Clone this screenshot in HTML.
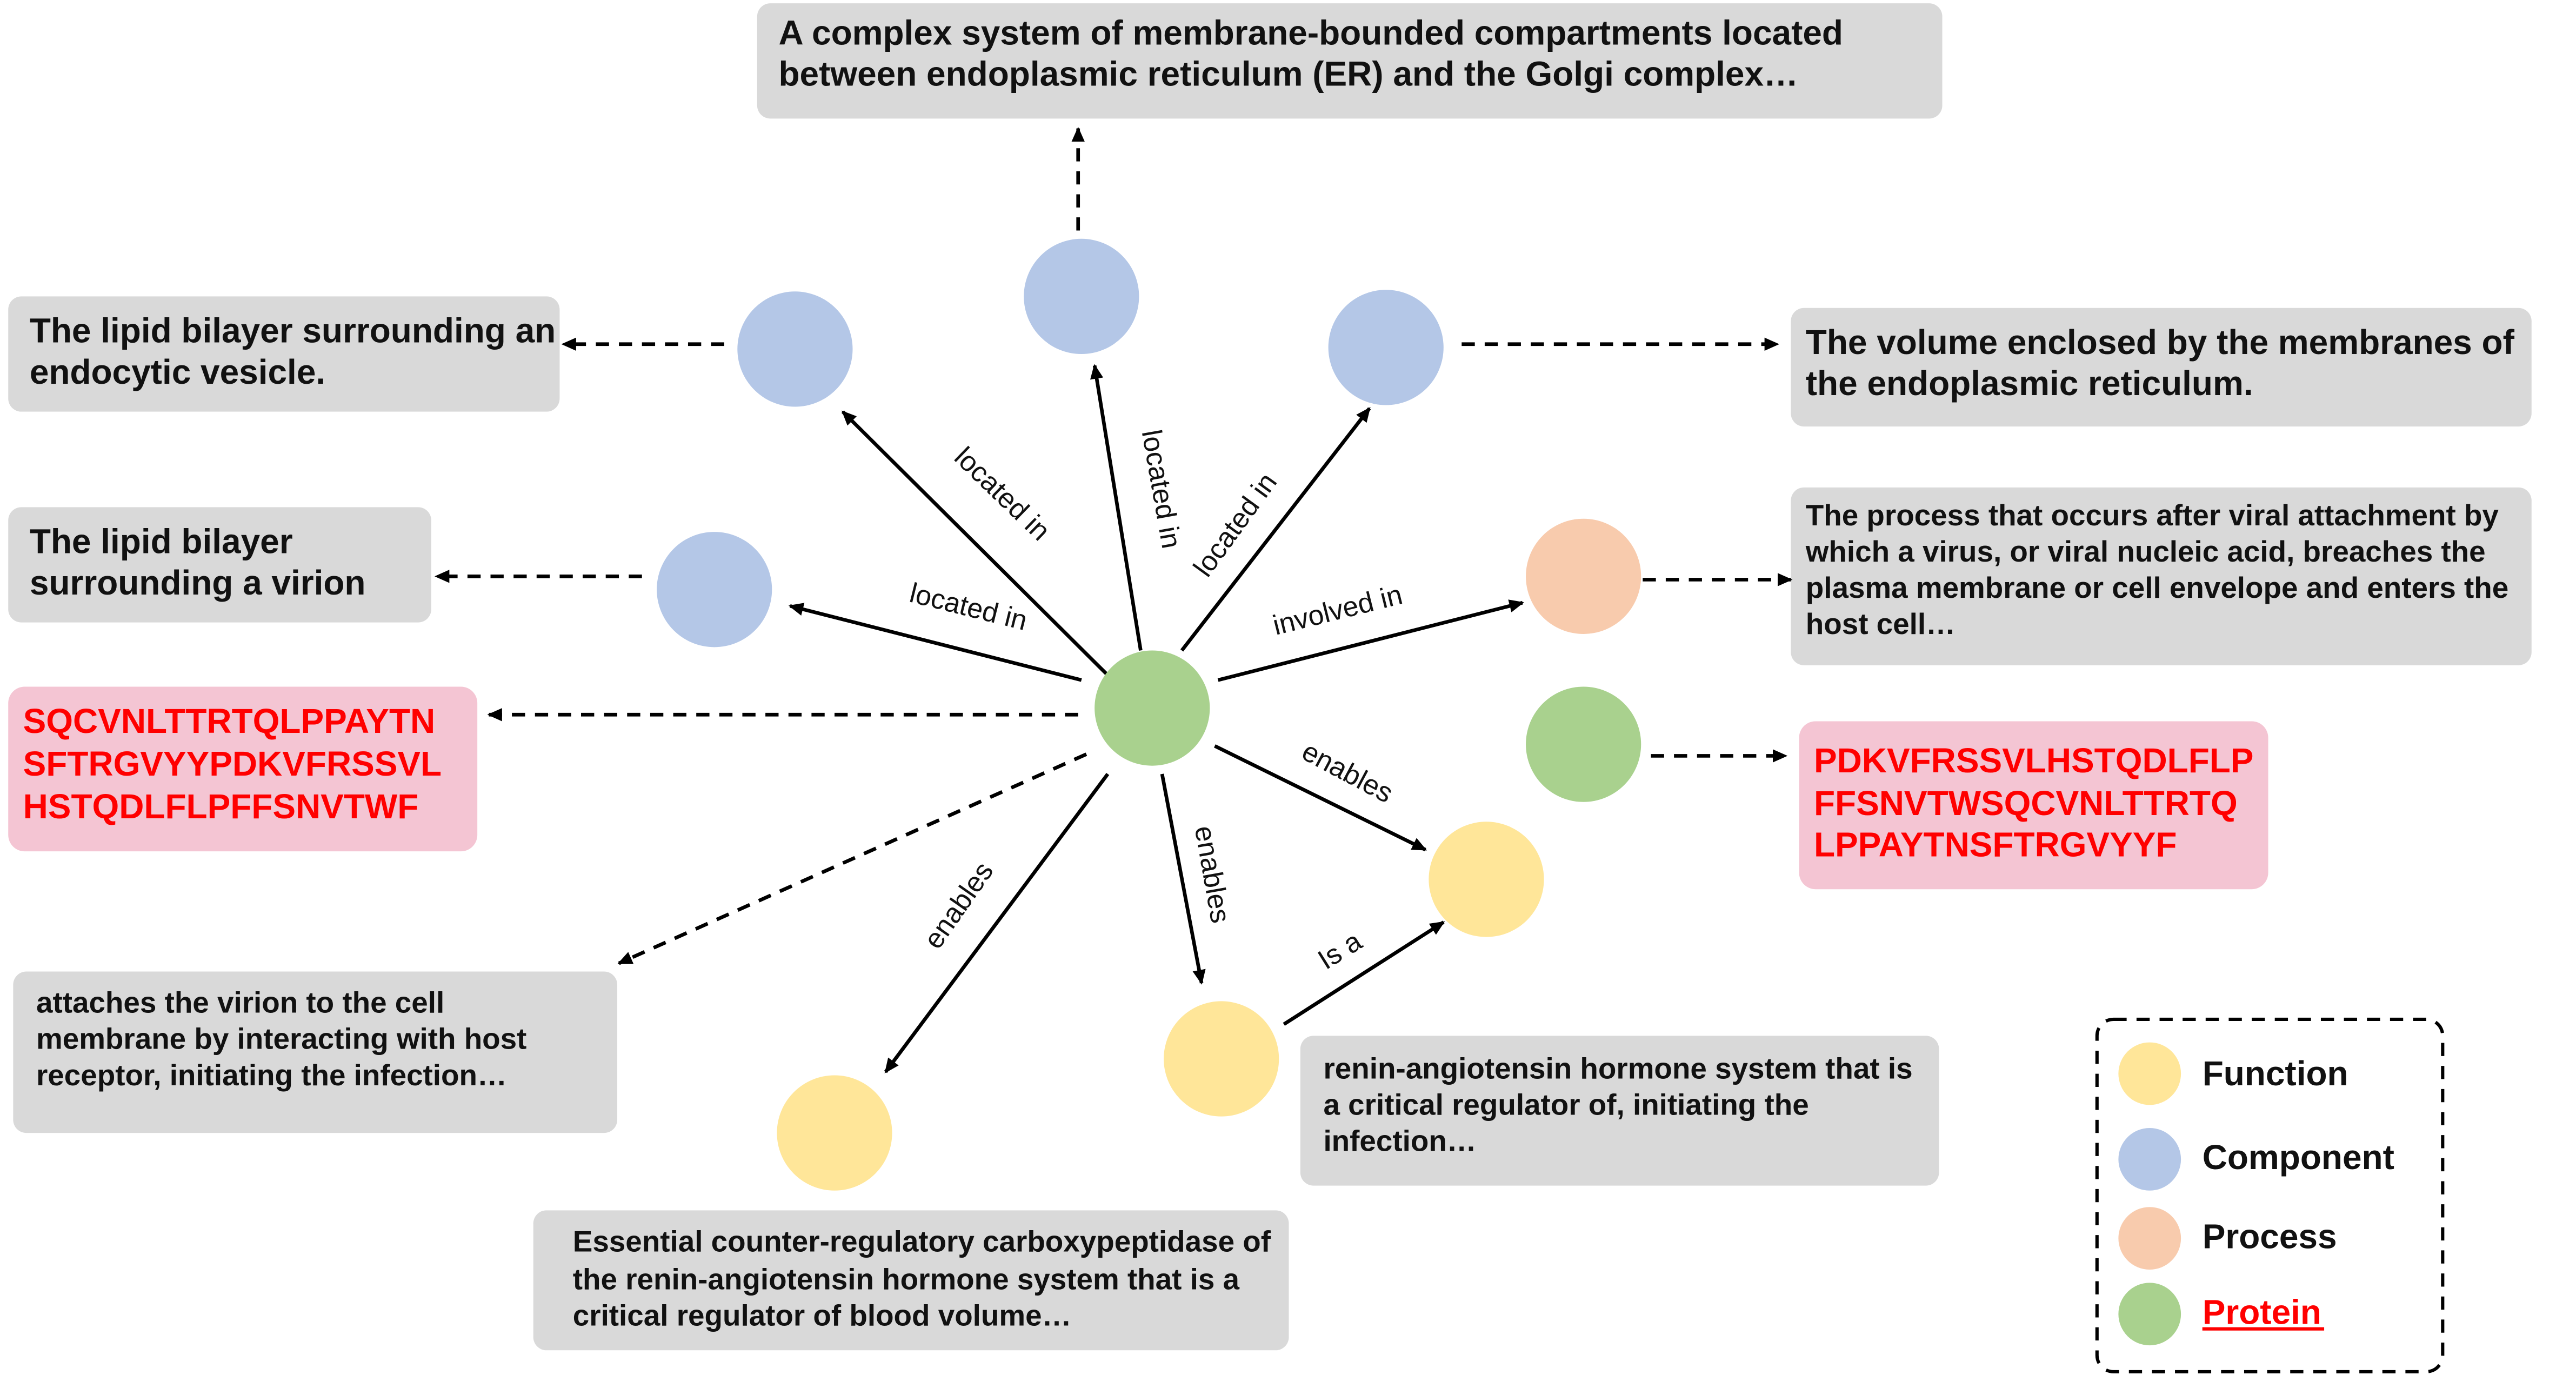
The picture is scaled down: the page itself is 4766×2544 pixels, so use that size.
<!DOCTYPE html>
<html><head><meta charset="utf-8"><style>
html,body{margin:0;padding:0;background:#fff;}
svg{display:block;}
text{font-family:"Liberation Sans",Arial,sans-serif;}
.b{font-weight:bold;font-size:21px;fill:#111;}
.s{font-weight:bold;font-size:18px;fill:#111;}
.r{font-weight:bold;font-size:21px;fill:#ff0000;}
.l{font-size:17px;fill:#111;}
</style></head><body>
<svg width="4766" height="2544" viewBox="0 0 1565 835" preserveAspectRatio="none" xmlns="http://www.w3.org/2000/svg">
<defs><marker id="a" markerWidth="10" markerHeight="10" refX="8" refY="5" orient="auto" markerUnits="userSpaceOnUse"><path d="M0,1 L9,5 L0,9 z" fill="#000"/></marker></defs>
<g fill="#d9d9d9">
<rect x="460" y="2" width="720" height="70" rx="8"/>
<rect x="5" y="180" width="335" height="70" rx="8"/>
<rect x="1088" y="187" width="450" height="72" rx="8"/>
<rect x="5" y="308" width="257" height="70" rx="8"/>
<rect x="1088" y="296" width="450" height="108" rx="8"/>
<rect x="8" y="590" width="367" height="98" rx="8"/>
<rect x="790" y="629" width="388" height="91" rx="8"/>
<rect x="324" y="735" width="459" height="85" rx="8"/>
</g>
<rect x="5" y="417" width="285" height="100" rx="10" fill="#f4c5d3"/>
<rect x="1093" y="438" width="285" height="102" rx="10" fill="#f4c5d3"/>
<text class="b" x="473" y="27">A complex system of membrane-bounded compartments located</text>
<text class="b" x="473" y="52">between endoplasmic reticulum (ER) and the Golgi complex…</text>
<text class="b" x="18" y="208">The lipid bilayer surrounding an</text>
<text class="b" x="18" y="233">endocytic vesicle.</text>
<text class="b" x="1097" y="215">The volume enclosed by the membranes of</text>
<text class="b" x="1097" y="240">the endoplasmic reticulum.</text>
<text class="b" x="18" y="336">The lipid bilayer</text>
<text class="b" x="18" y="361">surrounding a virion</text>
<text class="s" x="1097" y="319">The process that occurs after viral attachment by</text>
<text class="s" x="1097" y="341">which a virus, or viral nucleic acid, breaches the</text>
<text class="s" x="1097" y="363">plasma membrane or cell envelope and enters the</text>
<text class="s" x="1097" y="385">host cell…</text>
<text class="r" x="14" y="445">SQCVNLTTRTQLPPAYTN</text>
<text class="r" x="14" y="471">SFTRGVYYPDKVFRSSVL</text>
<text class="r" x="14" y="497">HSTQDLFLPFFSNVTWF</text>
<text class="r" x="1102" y="469">PDKVFRSSVLHSTQDLFLP</text>
<text class="r" x="1102" y="495">FFSNVTWSQCVNLTTRTQ</text>
<text class="r" x="1102" y="520">LPPAYTNSFTRGVYYF</text>
<text class="s" x="22" y="615">attaches the virion to the cell</text>
<text class="s" x="22" y="637">membrane by interacting with host</text>
<text class="s" x="22" y="659">receptor, initiating the infection…</text>
<text class="s" x="804" y="655">renin-angiotensin hormone system that is</text>
<text class="s" x="804" y="677">a critical regulator of, initiating the</text>
<text class="s" x="804" y="699">infection…</text>
<text class="s" x="348" y="760">Essential counter-regulatory carboxypeptidase of</text>
<text class="s" x="348" y="783">the renin-angiotensin hormone system that is a</text>
<text class="s" x="348" y="805">critical regulator of blood volume…</text>
<g stroke="#000" stroke-width="2.2" fill="none" marker-end="url(#a)">
<g stroke-dasharray="8,6">
<line x1="655" y1="140" x2="655" y2="78"/>
<line x1="440" y1="209" x2="342" y2="209"/>
<line x1="888" y1="209" x2="1080" y2="209"/>
<line x1="390" y1="350" x2="265" y2="350"/>
<line x1="998" y1="352" x2="1088" y2="352"/>
<line x1="655" y1="434" x2="297" y2="434"/>
<line x1="1003" y1="459" x2="1085" y2="459"/>
<line x1="660" y1="458" x2="376" y2="585"/>
</g>
<line x1="673" y1="410" x2="512" y2="250"/>
<line x1="693" y1="395" x2="665" y2="222"/>
<line x1="718" y1="395" x2="832" y2="248"/>
<line x1="657" y1="413" x2="480" y2="368"/>
<line x1="740" y1="413" x2="925" y2="366"/>
<line x1="738" y1="453" x2="866" y2="516"/>
<line x1="706" y1="470" x2="730" y2="597"/>
<line x1="673" y1="470" x2="538" y2="651"/>
<line x1="780" y1="622" x2="877" y2="560"/>
</g>
<g text-anchor="middle" class="l">
<text class="l" transform="translate(605,304) rotate(44)">located in</text>
<text class="l" transform="translate(700,298) rotate(80)">located in</text>
<text class="l" transform="translate(755,322) rotate(-54)">located in</text>
<text class="l" transform="translate(587,374) rotate(14)">located in</text>
<text class="l" transform="translate(814,376) rotate(-14)">involved in</text>
<text class="l" transform="translate(816,474) rotate(28)">enables</text>
<text class="l" transform="translate(731,532) rotate(80)">enables</text>
<text class="l" transform="translate(587,553) rotate(-55)">enables</text>
<text class="l" transform="translate(817,582) rotate(-32)">Is a</text>
</g>
<circle cx="657" cy="180" r="35" fill="#b4c7e7"/>
<circle cx="483" cy="212" r="35" fill="#b4c7e7"/>
<circle cx="842" cy="211" r="35" fill="#b4c7e7"/>
<circle cx="434" cy="358" r="35" fill="#b4c7e7"/>
<circle cx="962" cy="350" r="35" fill="#f8cbad"/>
<circle cx="700" cy="430" r="35" fill="#a9d18e"/>
<circle cx="962" cy="452" r="35" fill="#a9d18e"/>
<circle cx="903" cy="534" r="35" fill="#ffe699"/>
<circle cx="742" cy="643" r="35" fill="#ffe699"/>
<circle cx="507" cy="688" r="35" fill="#ffe699"/>
<rect x="1274" y="619" width="210" height="214" rx="10" fill="none" stroke="#000" stroke-width="2" stroke-dasharray="8,6"/>
<circle cx="1306" cy="652" r="19" fill="#ffe699"/>
<circle cx="1306" cy="704" r="19" fill="#b4c7e7"/>
<circle cx="1306" cy="752" r="19" fill="#f8cbad"/>
<circle cx="1306" cy="798" r="19" fill="#a9d18e"/>
<text class="b" x="1338" y="659">Function</text>
<text class="b" x="1338" y="710">Component</text>
<text class="b" x="1338" y="758">Process</text>
<text class="r" x="1338" y="804">Protein</text>
<line x1="1338" y1="807" x2="1412" y2="807" stroke="#ff0000" stroke-width="2"/>
</svg>
</body></html>
